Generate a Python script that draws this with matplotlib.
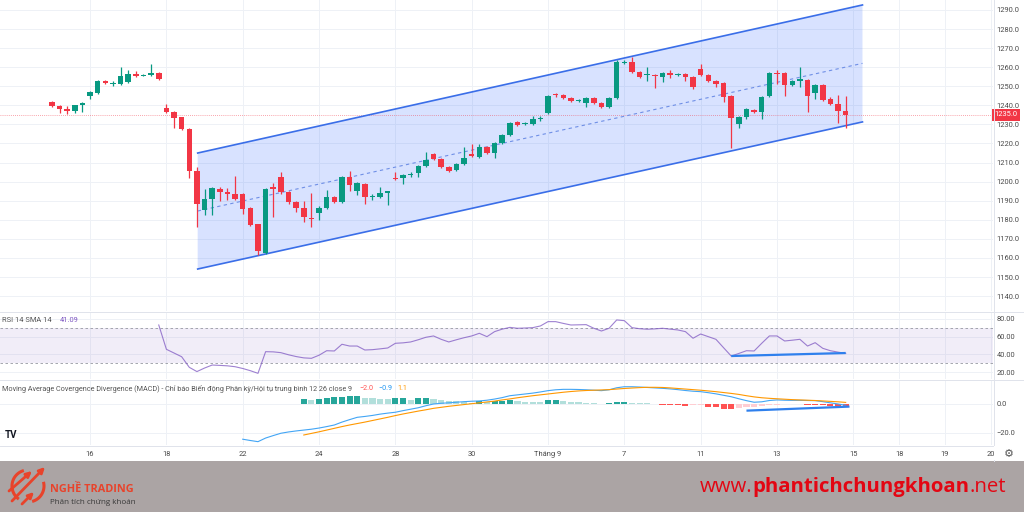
import numpy as np
import matplotlib.pyplot as plt
from matplotlib.lines import Line2D
from matplotlib.patches import Rectangle, Polygon
import matplotlib.transforms as mtrans

plt.rcParams['font.family'] = ['Roboto', 'DejaVu Sans']

# ---- data (bar index on x axis) ----
tick_pos = [5, 15, 25, 35, 45, 55, 65, 75, 85, 95, 105, 111, 117, 123]
tick_lab = ['16', '18', '22', '24', '28', '30', 'Tháng 9', '7', '11', '13', '15', '18', '19', '20']

opens = [1241.6, 1239.7, 1237.9, 1237.2, 1240.2, 1245.1, 1246.6, 1252.8, 1251.4, 1251.2,
         1252.4, 1256.4, 1255.6, 1255.9, 1257.1, 1238.5, 1236.7, 1233.7, 1227.6, 1205.7,
         1185.1, 1191.0, 1196.1, 1194.7, 1193.4, 1193.7, 1186.0, 1177.6, 1162.7, 1197.4,
         1202.3, 1194.4, 1189.2, 1186.0, 1181.2, 1183.4, 1186.0, 1191.8, 1189.5, 1202.6,
         1195.2, 1198.8, 1191.8, 1192.1, 1194.2, 1201.9, 1201.7, 1203.6, 1204.4, 1208.2,
         1214.3, 1211.7, 1207.8, 1206.1, 1209.1, 1214.3, 1213.1, 1218.0, 1214.9, 1220.1,
         1224.5, 1231.4, 1230.0, 1230.4, 1232.6, 1236.0, 1245.8, 1245.4, 1243.7, 1242.2,
         1241.1, 1243.7, 1241.1, 1239.3, 1243.7, 1262.4, 1262.9, 1257.7, 1255.7, 1256.0,
         1255.0, 1256.8, 1255.9, 1256.4, 1255.0, 1259.1, 1255.9, 1252.9, 1251.6, 1244.9,
         1230.2, 1234.1, 1237.6, 1236.7, 1244.9, 1257.0, 1256.8, 1250.7, 1252.8, 1253.3,
         1246.3, 1250.7, 1243.2, 1240.7, 1237.2]
highs = [1242.2, 1240.0, 1239.5, 1240.4, 1241.8, 1247.5, 1253.2, 1253.3, 1253.0, 1260.3,
         1258.5, 1258.0, 1256.5, 1261.7, 1257.5, 1240.7, 1237.0, 1234.0, 1228.0, 1207.7,
         1196.3, 1197.2, 1197.0, 1196.8, 1203.0, 1194.2, 1186.5, 1178.0, 1196.8, 1199.5,
         1204.9, 1195.0, 1190.0, 1190.0, 1194.2, 1187.0, 1195.7, 1192.5, 1203.0, 1205.5,
         1199.6, 1199.2, 1193.5, 1197.0, 1195.3, 1205.0, 1204.0, 1205.0, 1208.6, 1215.5,
         1215.0, 1212.2, 1208.3, 1209.6, 1218.3, 1219.6, 1219.5, 1218.5, 1220.6, 1225.0,
         1231.4, 1232.0, 1231.5, 1234.5, 1234.5, 1245.5, 1246.5, 1246.0, 1244.3, 1243.5,
         1244.2, 1244.2, 1241.6, 1244.2, 1263.5, 1264.0, 1265.2, 1258.2, 1260.0, 1256.5,
         1257.3, 1258.5, 1257.0, 1257.0, 1255.5, 1261.5, 1256.4, 1253.4, 1252.1, 1245.4,
         1234.6, 1238.5, 1238.1, 1245.0, 1257.3, 1258.5, 1257.3, 1253.3, 1260.0, 1253.8,
         1251.2, 1251.2, 1244.5, 1245.5, 1245.0]
lows = [1239.0, 1235.8, 1235.5, 1235.8, 1236.5, 1243.5, 1246.0, 1251.0, 1250.0, 1250.5,
        1251.8, 1255.0, 1255.2, 1255.5, 1253.3, 1236.0, 1228.3, 1227.2, 1201.7, 1176.4,
        1182.5, 1182.5, 1189.8, 1190.4, 1190.5, 1183.0, 1176.8, 1161.5, 1162.0, 1181.6,
        1193.5, 1188.5, 1184.0, 1179.0, 1176.0, 1180.0, 1185.5, 1189.0, 1189.0, 1195.2,
        1193.0, 1188.5, 1190.5, 1191.5, 1188.0, 1201.0, 1199.0, 1202.5, 1202.5, 1207.8,
        1211.2, 1207.3, 1205.2, 1205.5, 1208.6, 1212.8, 1212.5, 1214.4, 1212.5, 1219.6,
        1224.0, 1229.2, 1229.5, 1229.8, 1232.0, 1235.5, 1244.5, 1243.2, 1241.5, 1241.5,
        1239.0, 1240.6, 1238.8, 1238.8, 1243.2, 1261.8, 1257.2, 1254.5, 1252.5, 1248.9,
        1252.0, 1254.5, 1255.3, 1253.0, 1248.5, 1255.4, 1252.4, 1249.5, 1241.5, 1217.5,
        1228.0, 1233.0, 1236.2, 1233.0, 1244.4, 1251.0, 1245.0, 1250.2, 1249.5, 1236.5,
        1243.5, 1242.3, 1240.2, 1230.5, 1228.0]
closes = [1239.8, 1237.9, 1237.2, 1240.0, 1241.4, 1246.9, 1252.8, 1251.6, 1251.8, 1255.4,
          1256.3, 1255.4, 1255.9, 1257.1, 1253.7, 1236.4, 1233.5, 1227.6, 1205.7, 1188.3,
          1190.7, 1196.7, 1194.6, 1193.4, 1191.1, 1185.8, 1177.4, 1163.8, 1196.1, 1196.1,
          1194.4, 1189.2, 1186.0, 1181.6, 1180.6, 1186.0, 1191.8, 1189.5, 1202.3, 1198.2,
          1199.1, 1191.8, 1192.4, 1194.2, 1194.9, 1201.5, 1203.5, 1204.0, 1208.2, 1211.3,
          1211.7, 1207.8, 1205.7, 1209.1, 1212.2, 1213.4, 1218.0, 1214.9, 1220.1, 1224.5,
          1230.9, 1229.7, 1230.4, 1232.6, 1233.5, 1244.8, 1245.2, 1243.7, 1242.4, 1242.6,
          1243.7, 1241.1, 1239.3, 1243.7, 1262.9, 1262.8, 1257.7, 1255.0, 1256.0, 1255.6,
          1256.8, 1255.9, 1256.2, 1255.0, 1249.8, 1255.9, 1252.9, 1251.2, 1244.5, 1233.2,
          1234.1, 1238.0, 1236.7, 1244.5, 1256.8, 1256.5, 1250.7, 1252.8, 1253.7, 1244.9,
          1250.7, 1242.8, 1240.7, 1237.2, 1235.0]
last_price = 1235.0

# regression channel drawn on the chart
chan_x = [19.1, 106.2]
chan_upper = [1215.0, 1292.6]
chan_mid = [1184.6, 1262.0]
chan_lower = [1154.2, 1231.3]

rsi_start = 14
rsi_vals = [73.2, 45.7, 41.5, 37.3, 25.3, 20.5, 24.5, 27.9, 27.5, 27.0,
            26.0, 24.0, 21.5, 18.5, 43.0, 42.8, 41.9, 39.5, 37.5, 36.0,
            35.5, 39.0, 44.1, 43.8, 51.4, 49.4, 49.4, 44.9, 45.3, 46.2,
            47.2, 52.5, 53.0, 54.0, 56.5, 59.3, 60.8, 57.0, 54.0, 56.5,
            58.8, 60.8, 63.8, 60.0, 65.7, 68.5, 70.5, 69.5, 69.8, 70.2,
            72.1, 77.0, 77.0, 75.0, 73.2, 73.4, 73.6, 69.5, 66.4, 69.5,
            78.9, 78.1, 70.2, 69.0, 68.4, 68.8, 69.5, 68.5, 67.6, 65.7,
            58.2, 63.0, 60.0, 57.0, 47.5, 38.1, 41.0, 44.1, 43.8, 52.5,
            60.8, 60.8, 55.1, 56.0, 57.0, 49.4, 53.2, 46.8, 44.1, 42.5, 41.1]
rsi_div_x = [89, 104]
rsi_div_y = [38.1, 41.5]

macd_start = 25
macd_vals = [-24.3, -25.2, -26.0, -23.5, -21.8, -20.2, -19.3, -18.6, -18.0, -17.4,
             -16.6, -15.6, -14.5, -12.5, -10.8, -9.2, -8.6, -7.9, -7.0, -6.3,
             -5.7, -4.6, -3.6, -2.6, -1.2, 0.0, 0.5, 0.8, 1.2, 1.6,
             1.9, 2.1, 2.6, 3.4, 4.4, 5.7, 6.3, 6.9, 7.5, 8.3,
             9.2, 9.8, 10.1, 10.1, 10.0, 9.8, 9.5, 9.2, 9.8, 11.2,
             11.9, 11.9, 11.7, 11.4, 11.1, 10.8, 10.4, 9.9, 9.3, 8.8,
             8.5, 7.8, 7.0, 6.0, 5.0, 3.6, 2.3, 1.2, 1.5, 2.4,
             2.8, 2.6, 2.5, 2.5, 2.4, 2.3, 1.6, 0.8, 0.0, -0.9]
signal_start = 33
signal_vals = [-21.4, -20.3, -19.2, -18.0, -16.8, -15.6, -14.5, -13.5, -12.5, -11.4,
               -10.3, -9.2, -8.0, -6.9, -5.9, -4.9, -4.0, -3.0, -2.3, -1.6,
               -1.0, -0.4, 0.2, 0.8, 1.4, 2.0, 2.8, 3.5, 4.3, 5.0,
               5.7, 6.3, 6.9, 7.5, 8.1, 8.6, 9.0, 9.3, 9.5, 9.7,
               9.9, 10.3, 10.7, 11.0, 11.3, 11.5, 11.5, 11.4, 11.1, 10.7,
               10.3, 9.9, 9.5, 9.0, 8.5, 7.9, 7.3, 6.6, 5.7, 4.9,
               4.3, 3.9, 3.6, 3.3, 3.0, 2.8, 2.6, 2.4, 2.1, 1.8, 1.5, 1.1]
hist_start = 33
hist_vals = [3.4, 2.8, 3.4, 4.4, 4.6, 5.1, 5.5, 5.6, 4.2, 3.8,
             3.6, 3.4, 3.9, 4.0, 2.8, 3.9, 4.0, 3.2, 2.8, 2.3,
             1.8, 1.4, 0.9, 2.3, 1.4, 2.1, 2.2, 2.5, 1.8, 1.6,
             1.4, 1.3, 2.8, 3.0, 2.1, 1.6, 1.2, 0.9, 0.5, 0.3,
             0.4, 1.4, 1.5, 0.9, 0.6, 0.4, 0.3, -0.5, -0.7, -0.9,
             -1.1, -0.9, -0.8, -2.0, -2.2, -3.2, -3.7, -3.0, -2.3, -1.9,
             -1.4, -0.6, -0.4, -0.3, -0.3, -0.2, -0.5, -0.9, -1.0, -1.4, -1.6, -2.0]
macd_div_x = [91, 104.5]
macd_div_y = [-4.6, -1.8]

GREEN, RED = '#089981', '#f23645'
GRID = '#eef1f6'
TXT = '#4a4a4a'
FS = 5.4

W, H = 1024, 512
fig = plt.figure(figsize=(W / 100, H / 100), dpi=100)


def px_axes(x0, y0, x1, y1):
    return fig.add_axes([x0 / W, 1 - y1 / H, (x1 - x0) / W, (y1 - y0) / H])


ax_p = px_axes(0, 0, 993, 311)
ax_r = px_axes(0, 312, 993, 379)
ax_m = px_axes(0, 380, 993, 445)
ax_b = px_axes(0, 461, 1024, 512)

for ax in (ax_p, ax_r, ax_m):
    ax.set_xlim(-6.8, 123.3)
    for s in ax.spines.values():
        s.set_visible(False)
    ax.yaxis.tick_right()
    ax.tick_params(axis='y', length=0, pad=2.5, labelsize=FS, labelcolor=TXT)
    ax.set_xticks(tick_pos)
    for t in tick_pos:
        ax.axvline(t, color=GRID, lw=0.7, zorder=0)
    ax.tick_params(axis='x', length=0)

ax_p.set_xticklabels([])
ax_r.set_xticklabels([])
ax_m.set_xticklabels(tick_lab)
ax_m.tick_params(axis='x', labelsize=FS, labelcolor=TXT, pad=4)

# ---- price pane ----
o, h, l, c = map(np.array, (opens, highs, lows, closes))
xs = np.arange(len(o))
cols = np.where(c >= o, GREEN, RED)
ax_p.set_ylim(1132.2, 1295.2)
ticks = np.arange(1140, 1300, 10)
ax_p.set_yticks(ticks)
ax_p.set_yticklabels([f'{t:.1f}' for t in ticks])
for t in ticks:
    ax_p.axhline(t, color=GRID, lw=0.7, zorder=0)

ax_p.add_patch(Polygon([(chan_x[0], chan_lower[0]), (chan_x[0], chan_upper[0]),
                        (chan_x[1], chan_upper[1]), (chan_x[1], chan_lower[1])],
                       closed=True, fc='#2962ff', alpha=0.18, ec='none', zorder=1))
ax_p.plot(chan_x, chan_upper, color='#3a6ee8', lw=1.2, zorder=2)
ax_p.plot(chan_x, chan_lower, color='#3a6ee8', lw=1.2, zorder=2)
ax_p.plot(chan_x, chan_mid, color='#6f8fe6', lw=0.8, ls=(0, (3, 3)), zorder=2)

ax_p.axhline(last_price, color=RED, lw=0.6, ls=(0, (1, 1.5)), alpha=0.6, zorder=1)
ax_p.vlines(xs, l, h, colors=cols, lw=0.9, zorder=3)
ax_p.bar(xs, np.maximum(np.abs(c - o), 0.5), bottom=np.minimum(o, c), width=0.72,
         color=cols, zorder=4, lw=0)
trans = mtrans.blended_transform_factory(ax_p.transAxes, ax_p.transData)
ax_p.text(1.0015, last_price, f'{last_price:.1f}', transform=trans, ha='left', va='center',
          fontsize=FS, color='white',
          bbox=dict(boxstyle='square,pad=0.3', fc=RED, ec='none'), zorder=10, clip_on=False)

# ---- RSI pane ----
ax_r.set_ylim(12.1, 87.9)
ax_r.set_yticks([20, 40, 60, 80])
ax_r.set_yticklabels(['20.00', '40.00', '60.00', '80.00'])
for t in [20, 40, 60, 80]:
    ax_r.axhline(t, color=GRID, lw=0.7, zorder=0)
ax_r.axhspan(30, 70, color='#7e57c2', alpha=0.1, lw=0)
ax_r.axhline(70, color='#9598a1', lw=0.6, ls=(0, (3, 3)))
ax_r.axhline(30, color='#9598a1', lw=0.6, ls=(0, (3, 3)))
ax_r.plot(np.arange(rsi_start, rsi_start + len(rsi_vals)), rsi_vals,
          color='#7e57c2', lw=0.8, alpha=0.75)
ax_r.plot(rsi_div_x, rsi_div_y, color='#2f80ed', lw=1.6, solid_capstyle='butt')

# ---- MACD pane ----
ax_m.set_ylim(-28.3, 16.55)
ax_m.set_yticks([0, -20])
ax_m.set_yticklabels(['0.0', '\u221220.0'])
for t in [0, -20]:
    ax_m.axhline(t, color=GRID, lw=0.7, zorder=0)
hv = np.array(hist_vals)
hcols = []
prev = None
for v in hv:
    grow = prev is None or (v >= prev if v >= 0 else v <= prev)
    if v >= 0:
        hcols.append('#26a69a' if grow else '#b2dfdb')
    else:
        hcols.append('#ff5252' if grow else '#ffcdd2')
    prev = v
ax_m.bar(np.arange(hist_start, hist_start + len(hv)), hv, width=0.8, color=hcols, lw=0)
ax_m.plot(np.arange(macd_start, macd_start + len(macd_vals)), macd_vals,
          color='#42a5f5', lw=0.8)
ax_m.plot(np.arange(signal_start, signal_start + len(signal_vals)), signal_vals,
          color='#ff9800', lw=0.8)
ax_m.plot(macd_div_x, macd_div_y, color='#2f80ed', lw=1.6, solid_capstyle='butt')

# ---- frame lines ----
for (x0, y0, x1, y1) in [(0, 311.5, 1024, 311.5), (0, 379.5, 1024, 379.5),
                         (0, 445.5, 993, 445.5), (993.5, 0, 993.5, 461)]:
    fig.add_artist(Line2D([x0 / W, x1 / W], [1 - y0 / H, 1 - y1 / H],
                          transform=fig.transFigure, color='#e0e3eb', lw=0.7))
fig.add_artist(Rectangle((994 / W, 1 - 460 / H), 30 / W, 14 / H,
                         transform=fig.transFigure, fc='white', ec='none', zorder=20))
fig.text(1009 / W, 1 - 454 / H, '\u2699', fontsize=8, color='#555555',
         ha='center', va='center', family='DejaVu Sans', zorder=21)

# ---- legends ----
renderer = fig.canvas.get_renderer()


def seq_text(x, y, parts, **kw):
    for s, col, gap, wt in parts:
        t = fig.text(x / W, 1 - y / H, s, color=col, va='center', fontweight=wt, **kw)
        bb = t.get_window_extent(renderer=renderer)
        x = bb.x1 + gap


seq_text(2, 321, [('RSI 14 SMA 14', '#555555', 8, 'normal'),
                  ('41.09', '#7e57c2', 0, 'normal')], fontsize=FS)
seq_text(2, 389, [('Moving Average Covergence Divergence (MACD) - Chỉ báo Biến động '
                   'Phân kỳ/Hội tụ trung bình 12 26 close 9', '#555555', 7, 'normal'),
                  ('\u22122.0', '#ff5252', 5, 'normal'), ('\u22120.9', '#2196f3', 5, 'normal'),
                  ('1.1', '#ff9800', 0, 'normal')], fontsize=5.2)
fig.text(5 / W, 1 - 435 / H, 'TV', fontsize=7, fontweight='bold', color='#131722', va='center')

# ---- bottom banner ----
ax_b.set_xlim(0, 1024)
ax_b.set_ylim(512, 461)
ax_b.set_facecolor('#aba4a4')
ax_b.set_xticks([])
ax_b.set_yticks([])
for s in ax_b.spines.values():
    s.set_visible(False)

LOGO = '#e8432b'
cx, cy, r = 28, 486, 16
for a0, a1 in [(105, 235), (-75, 15)]:
    tt = np.radians(np.linspace(a0, a1, 40))
    ax_b.plot(cx + r * np.cos(tt), cy - r * np.sin(tt), color=LOGO, lw=2.2,
              solid_capstyle='butt')
for (x0, y0, x1, y1) in [(12, 501, 45, 467), (9, 491, 32, 471), (22, 504, 34, 492)]:
    ax_b.annotate('', xy=(x1, y1), xytext=(x0, y0),
                  arrowprops=dict(arrowstyle='-|>', color=LOGO, lw=2, mutation_scale=8,
                                  shrinkA=0, shrinkB=0))
ax_b.text(50, 489, 'NGHỀ TRADING', fontsize=7.8, fontweight='bold', color=LOGO,
          va='center', family=['Open Sans', 'DejaVu Sans'])
ax_b.text(50, 503, 'Phân tích chứng khoán', fontsize=5.8, color='#3a3a3a',
          va='center', family=['Open Sans', 'DejaVu Sans'])

seq_text(700, 487, [('www.', '#e30613', 0, 'normal'),
                    ('phantichchungkhoan', '#e30613', 0, 'bold'),
                    ('.net', '#e30613', 0, 'normal')],
         fontsize=14.7, family=['Open Sans', 'DejaVu Sans'])

fig.savefig('out.png', dpi=100)
